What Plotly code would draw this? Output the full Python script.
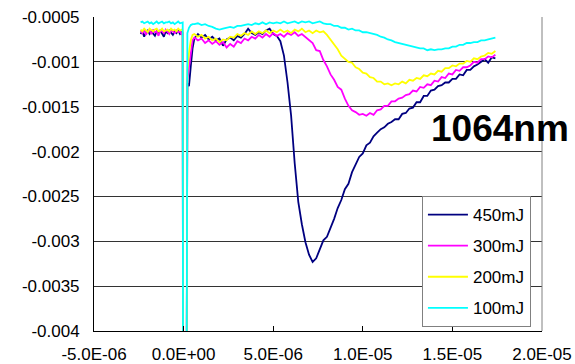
import plotly.graph_objects as go

# Sample times in microseconds (finer steps around the laser-pulse spike)
time_us = [
    -2.4, -2.3, -2.2, -2.1, -2.0, -1.9, -1.8, -1.7, -1.6, -1.5,
    -1.4, -1.3, -1.2, -1.1, -1.0, -0.9, -0.8, -0.7, -0.6, -0.5,
    -0.4, -0.3, -0.2, -0.1, -0.05,
    -0.03, 0.17,
    0.21, 0.3, 0.4, 0.5,
    0.6, 0.8, 1.0, 1.2, 1.4, 1.6, 1.8, 2.0, 2.2, 2.4,
    2.6, 2.8, 3.0, 3.2, 3.4, 3.6, 3.8, 4.0, 4.2, 4.4,
    4.6, 4.8, 5.0, 5.2,
    5.4, 5.6, 5.8, 6.0, 6.2, 6.4, 6.6, 6.8, 7.0, 7.2,
    7.4, 7.6, 7.8, 8.0, 8.2, 8.4, 8.6, 8.8, 9.0, 9.2,
    9.4, 9.6, 9.8, 10.0, 10.2, 10.4, 10.6, 10.8, 11.0, 11.2,
    11.4, 11.6, 11.8, 12.0, 12.2, 12.4, 12.6, 12.8, 13.0, 13.2,
    13.4, 13.6, 13.8, 14.0, 14.2, 14.4, 14.6, 14.8, 15.0, 15.2,
    15.4, 15.6, 15.8, 16.0, 16.2, 16.4, 16.6, 16.8, 17.0, 17.2,
    17.4,
]

sig_450mJ = [
    -6.9e-4, -6.6e-4, -7.2e-4, -6.7e-4, -6.5e-4, -6.9e-4, -6.6e-4, -6.8e-4, -7.1e-4, -6.6e-4,
    -6.7e-4, -6.5e-4, -6.9e-4, -7.2e-4, -6.6e-4, -6.8e-4, -6.5e-4, -6.7e-4, -7.0e-4, -6.6e-4,
    -6.8e-4, -6.5e-4, -6.9e-4, -6.7e-4, -6.8e-4,
    -48e-4, -48e-4,
    -12.4e-4, -12.7e-4, -10.5e-4, -8.5e-4,
    -7.4e-4, -6.9e-4, -7.3e-4, -7.0e-4, -7.5e-4, -7.2e-4, -7.6e-4, -7.4e-4, -8.2e-4, -7.5e-4,
    -7.3e-4, -7.6e-4, -7.1e-4, -7.3e-4, -6.9e-4, -6.3e-4, -6.8e-4, -7.0e-4, -6.7e-4, -6.9e-4,
    -6.5e-4, -6.3e-4, -6.9e-4, -7.1e-4,
    -7.7e-4, -9.3e-4, -12.3e-4, -16.0e-4, -21.3e-4, -25.6e-4, -28.1e-4, -30.1e-4, -31.5e-4, -32.3e-4,
    -31.9e-4, -31.0e-4, -29.9e-4, -29.5e-4, -28.6e-4, -27.5e-4, -26.3e-4, -25.4e-4, -24.2e-4, -23.6e-4,
    -22.3e-4, -21.5e-4, -20.6e-4, -20.2e-4, -19.3e-4, -19.0e-4, -18.3e-4, -17.9e-4, -17.5e-4, -17.3e-4,
    -16.9e-4, -16.7e-4, -16.4e-4, -16.4e-4, -15.8e-4, -15.7e-4, -15.2e-4, -15.1e-4, -14.5e-4, -14.5e-4,
    -13.8e-4, -13.8e-4, -13.2e-4, -13.1e-4, -12.7e-4, -12.6e-4, -12.3e-4, -12.3e-4, -11.9e-4, -11.9e-4,
    -11.4e-4, -11.5e-4, -10.9e-4, -10.9e-4, -10.5e-4, -10.3e-4, -10.0e-4, -9.7e-4, -10.1e-4, -9.5e-4,
    -9.6e-4,
]

sig_300mJ = [
    -6.5e-4, -6.8e-4, -6.4e-4, -7.0e-4, -6.6e-4, -6.5e-4, -6.9e-4, -6.4e-4, -6.7e-4, -6.6e-4,
    -7.1e-4, -6.5e-4, -6.6e-4, -6.8e-4, -6.4e-4, -6.7e-4, -6.9e-4, -6.5e-4, -6.6e-4, -6.8e-4,
    -6.5e-4, -6.7e-4, -6.6e-4, -7.0e-4, -6.7e-4,
    -48e-4, -48e-4,
    -12.0e-4, -10.6e-4, -8.6e-4, -7.6e-4,
    -7.3e-4, -7.6e-4, -7.4e-4, -7.9e-4, -7.6e-4, -8.0e-4, -7.7e-4, -8.1e-4, -7.8e-4, -8.4e-4,
    -8.0e-4, -8.3e-4, -7.7e-4, -7.9e-4, -7.4e-4, -7.6e-4, -7.2e-4, -7.4e-4, -7.0e-4, -7.3e-4,
    -6.9e-4, -7.2e-4, -6.8e-4, -7.1e-4,
    -6.9e-4, -7.2e-4, -6.8e-4, -7.0e-4, -6.7e-4, -7.1e-4, -6.9e-4, -7.2e-4, -7.6e-4, -7.9e-4,
    -8.7e-4, -8.8e-4, -9.8e-4, -10.5e-4, -11.4e-4, -12.0e-4, -12.8e-4, -13.1e-4, -14.1e-4, -14.9e-4,
    -15.4e-4, -15.6e-4, -15.9e-4, -15.8e-4, -16.0e-4, -15.7e-4, -15.9e-4, -15.4e-4, -15.3e-4, -14.9e-4,
    -14.9e-4, -14.4e-4, -14.4e-4, -14.1e-4, -14.0e-4, -13.7e-4, -13.6e-4, -13.2e-4, -13.3e-4, -12.8e-4,
    -12.9e-4, -12.5e-4, -12.6e-4, -12.1e-4, -12.2e-4, -11.7e-4, -11.8e-4, -11.3e-4, -11.4e-4, -10.9e-4,
    -11.0e-4, -10.6e-4, -10.6e-4, -10.4e-4, -10.0e-4, -10.1e-4, -9.7e-4, -9.7e-4, -9.4e-4, -9.5e-4,
    -9.2e-4,
]

sig_200mJ = [
    -6.4e-4, -6.6e-4, -6.3e-4, -6.5e-4, -6.7e-4, -6.3e-4, -6.5e-4, -6.6e-4, -6.4e-4, -6.3e-4,
    -6.6e-4, -6.5e-4, -6.3e-4, -6.6e-4, -6.5e-4, -6.4e-4, -6.6e-4, -6.3e-4, -6.5e-4, -6.4e-4,
    -6.6e-4, -6.3e-4, -6.5e-4, -6.4e-4, -6.5e-4,
    -48e-4, -48e-4,
    -11.0e-4, -9.0e-4, -7.6e-4, -7.0e-4,
    -6.9e-4, -7.2e-4, -7.0e-4, -7.4e-4, -7.2e-4, -7.6e-4, -7.4e-4, -7.8e-4, -7.5e-4, -7.6e-4,
    -7.2e-4, -7.3e-4, -6.9e-4, -7.1e-4, -6.8e-4, -7.0e-4, -6.6e-4, -6.9e-4, -6.6e-4, -6.8e-4,
    -6.5e-4, -6.8e-4, -6.5e-4, -6.7e-4,
    -6.4e-4, -6.7e-4, -6.5e-4, -6.8e-4, -6.4e-4, -6.6e-4, -6.3e-4, -6.7e-4, -6.5e-4, -6.8e-4,
    -6.5e-4, -6.7e-4, -6.6e-4, -7.0e-4, -7.5e-4, -8.1e-4, -8.6e-4, -9.3e-4, -9.6e-4, -10.0e-4,
    -10.1e-4, -10.6e-4, -10.8e-4, -11.2e-4, -11.3e-4, -11.7e-4, -11.8e-4, -12.2e-4, -12.2e-4, -12.5e-4,
    -12.4e-4, -12.6e-4, -12.4e-4, -12.5e-4, -12.2e-4, -12.4e-4, -12.0e-4, -12.1e-4, -11.8e-4, -11.9e-4,
    -11.5e-4, -11.6e-4, -11.3e-4, -11.4e-4, -11.0e-4, -11.1e-4, -10.7e-4, -10.7e-4, -10.4e-4, -10.5e-4,
    -10.2e-4, -10.2e-4, -9.9e-4, -10.0e-4, -9.6e-4, -9.7e-4, -9.4e-4, -9.3e-4, -9.0e-4, -9.1e-4,
    -8.8e-4,
]

sig_100mJ = [
    -5.6e-4, -5.5e-4, -5.7e-4, -5.6e-4, -5.5e-4, -5.7e-4, -5.6e-4, -5.8e-4, -5.6e-4, -5.5e-4,
    -5.7e-4, -5.6e-4, -5.5e-4, -5.7e-4, -5.6e-4, -5.6e-4, -5.5e-4, -5.7e-4, -5.6e-4, -5.8e-4,
    -5.6e-4, -5.5e-4, -5.7e-4, -5.6e-4, -5.6e-4,
    -48e-4, -48e-4,
    -6.8e-4, -6.2e-4, -5.9e-4, -5.8e-4,
    -5.8e-4, -5.7e-4, -5.9e-4, -5.8e-4, -6.0e-4, -6.1e-4, -6.3e-4, -6.4e-4, -6.3e-4, -6.2e-4,
    -6.1e-4, -6.2e-4, -6.0e-4, -6.0e-4, -5.9e-4, -5.8e-4, -5.9e-4, -5.7e-4, -5.8e-4, -5.6e-4,
    -5.8e-4, -5.6e-4, -5.7e-4, -5.6e-4,
    -5.7e-4, -5.5e-4, -5.7e-4, -5.6e-4, -5.5e-4, -5.7e-4, -5.5e-4, -5.6e-4, -5.5e-4, -5.7e-4,
    -5.6e-4, -5.5e-4, -5.7e-4, -5.8e-4, -5.8e-4, -6.0e-4, -6.0e-4, -6.2e-4, -6.2e-4, -6.4e-4,
    -6.3e-4, -6.5e-4, -6.5e-4, -6.7e-4, -6.7e-4, -6.8e-4, -6.9e-4, -7.0e-4, -7.2e-4, -7.3e-4,
    -7.5e-4, -7.6e-4, -7.8e-4, -7.9e-4, -8.0e-4, -8.1e-4, -8.2e-4, -8.3e-4, -8.4e-4, -8.5e-4,
    -8.5e-4, -8.7e-4, -8.6e-4, -8.7e-4, -8.6e-4, -8.6e-4, -8.5e-4, -8.5e-4, -8.3e-4, -8.3e-4,
    -8.1e-4, -8.1e-4, -7.9e-4, -7.9e-4, -7.8e-4, -7.8e-4, -7.6e-4, -7.6e-4, -7.5e-4, -7.4e-4,
    -7.3e-4,
]

series_names = ["450mJ", "300mJ", "200mJ", "100mJ"]
series_values = [sig_450mJ, sig_300mJ, sig_200mJ, sig_100mJ]
series_colors = ["#000080", "#FF00FF", "#FFFF00", "#00FFFF"]

x_tick_vals = [-5e-6, 0.0, 5e-6, 1e-5, 1.5e-5, 2e-5]
x_tick_text = ["-5.0E-06", "0.0E+00", "5.0E-06", "1.0E-05", "1.5E-05", "2.0E-05"]
y_tick_vals = [-0.004, -0.0035, -0.003, -0.0025, -0.002, -0.0015, -0.001, -0.0005]
y_tick_text = ["-0.004", "-0.0035", "-0.003", "-0.0025", "-0.002", "-0.0015", "-0.001", "-0.0005"]

for vals in series_values:
    assert len(vals) == len(time_us)

time_s = [t * 1e-6 for t in time_us]

fig = go.Figure()
for name, vals, color in zip(series_names, series_values, series_colors):
    fig.add_trace(go.Scatter(
        x=time_s, y=vals, mode="lines", name=name, legendgroup=name,
        line=dict(color=color, width=1.8),
    ))

font_family = "Liberation Sans, Arial, sans-serif"

fig.update_layout(
    width=575, height=364,
    margin=dict(l=94, r=33, t=17, b=33, autoexpand=False),
    paper_bgcolor="white", plot_bgcolor="white",
    font=dict(family=font_family, size=17, color="black"),
    xaxis=dict(
        range=[-5.0001e-6, 2.0001e-5], automargin=False,
        tickmode="array", tickvals=x_tick_vals, ticktext=x_tick_text,
        showgrid=False, zeroline=False,
        showline=True, linecolor="black", linewidth=1,
        ticks="inside", ticklen=5, tickcolor="black",
        ticklabelstandoff=8,
    ),
    yaxis=dict(
        range=[-0.0040001, -0.00049999], automargin=False,
        tickmode="array", tickvals=y_tick_vals, ticktext=y_tick_text,
        showgrid=True, gridcolor="#333333", gridwidth=1, zeroline=False,
        showline=True, linecolor="black", linewidth=1,
        ticks="", ticklabelstandoff=10,
    ),
    legend=dict(
        x=0.732, y=0.43, xanchor="left", yanchor="top",
        bgcolor="white", bordercolor="#808080", borderwidth=1,
        font=dict(family=font_family, size=17, color="black"),
        tracegroupgap=6, itemwidth=40,
    ),
    shapes=[dict(
        type="line", xref="paper", yref="paper", x0=1, x1=1, y0=0, y1=1,
        line=dict(color="#808080", width=1),
    )],
    annotations=[dict(
        text="1064nm", xref="paper", yref="paper",
        x=0.748, y=0.644, xanchor="left", yanchor="middle",
        showarrow=False,
        font=dict(family=font_family, size=37, weight="bold", color="black"),
    )],
)

fig.write_html("out.html")
